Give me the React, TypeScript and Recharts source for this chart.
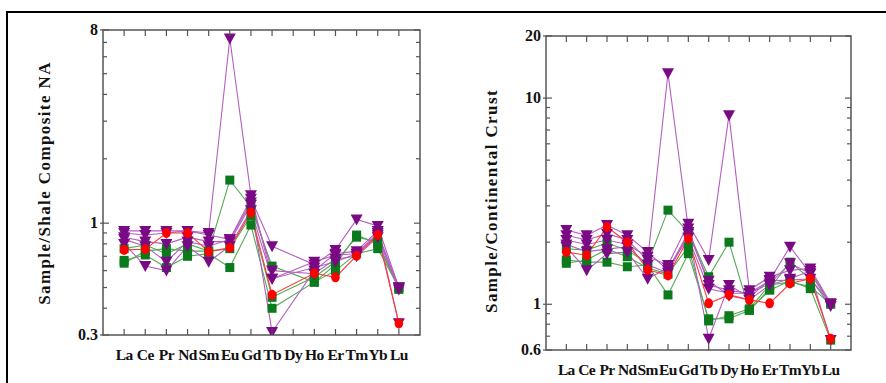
import React from "react";
import { LineChart, Line, XAxis, YAxis, ReferenceArea } from "recharts";

// REE order on the x axis
const ELEMENTS = ["La", "Ce", "Pr", "Nd", "Sm", "Eu", "Gd", "Tb", "Dy", "Ho", "Er", "Tm", "Yb", "Lu"];

// Left panel: normalised to shale composite (NASC); Dy not reported
const shalePurple1 = [0.9, 0.88, 0.9, 0.92, 0.9, 7.3, 1.35, 0.55, null, 0.62, 0.66, 0.72, 0.9, 0.5];
const shalePurple2 = [0.92, 0.92, 0.92, 0.92, 0.88, 0.84, 1.3, 0.78, null, 0.64, 0.75, 1.04, 0.97, 0.5];
const shalePurple3 = [0.86, 0.82, 0.8, 0.86, 0.82, 0.82, 1.22, 0.31, null, 0.6, 0.72, 0.74, 0.92, 0.34];
const shalePurple4 = [0.8, 0.63, 0.6, 0.78, 0.66, 0.78, 1.15, 0.55, null, 0.66, 0.71, 0.72, 0.88, 0.5];
const shalePurple5 = [0.84, 0.78, 0.66, 0.82, 0.78, 0.84, 1.25, 0.6, null, 0.58, 0.68, 0.7, 0.86, 0.49];
const shaleGreen1 = [0.76, 0.79, 0.72, 0.8, 0.74, 1.59, 1.19, 0.63, null, 0.53, 0.64, 0.88, 0.8, 0.5];
const shaleGreen2 = [0.67, 0.71, 0.62, 0.7, 0.72, 0.62, 0.98, 0.4, null, 0.53, 0.6, 0.72, 0.76, 0.5];
const shaleGreen3 = [0.65, 0.74, 0.76, 0.74, 0.74, 0.76, 1.08, 0.45, null, 0.56, 0.66, 0.86, 0.82, 0.49];
const shaleRed = [0.75, 0.755, 0.9, 0.9, 0.736, 0.768, 1.12, 0.463, null, 0.583, 0.558, 0.705, 0.88, 0.34];

// Right panel: normalised to continental crust
const crustPurple1 = [2.16, 2.05, 2.2, 2.05, 1.64, 13.2, 2.33, 1.24, 1.17, 1.13, 1.26, 1.58, 1.41, 1.0];
const crustPurple2 = [2.05, 1.95, 2.05, 1.95, 1.7, 1.55, 2.46, 1.64, 8.26, 1.17, 1.36, 1.46, 1.49, 1.01];
const crustPurple3 = [2.29, 2.16, 2.42, 2.16, 1.79, 1.46, 2.24, 0.68, 1.24, 1.08, 1.31, 1.9, 1.41, 0.67];
const crustPurple4 = [1.9, 1.46, 1.76, 1.79, 1.33, 1.5, 2.1, 1.19, 1.13, 1.13, 1.3, 1.31, 1.33, 0.98];
const crustPurple5 = [1.95, 1.8, 1.85, 1.9, 1.55, 1.42, 2.2, 1.3, 1.1, 1.05, 1.24, 1.33, 1.45, 1.0];
const crustGreen1 = [1.86, 1.83, 1.98, 1.83, 1.58, 2.86, 2.24, 1.36, 2.0, 0.935, 1.19, 1.6, 1.33, 1.01];
const crustGreen2 = [1.64, 1.6, 1.6, 1.52, 1.55, 1.11, 1.76, 0.85, 0.85, 0.935, 1.17, 1.3, 1.19, 0.67];
const crustGreen3 = [1.58, 1.64, 1.85, 1.7, 1.5, 1.4, 1.9, 0.83, 0.88, 0.95, 1.24, 1.28, 1.22, 1.0];
const crustRed = [1.79, 1.73, 2.37, 2.0, 1.47, 1.38, 2.08, 1.01, 1.11, 1.05, 1.01, 1.26, 1.33, 0.68];

const shaleTicks = [0.3, 0.4, 0.5, 0.6, 0.7, 0.8, 0.9, 1, 2, 3, 4, 5, 6, 7, 8];
const shaleLabels = [0.3, 1, 8];
const crustTicks = [0.6, 0.7, 0.8, 0.9, 1, 2, 3, 4, 5, 6, 7, 8, 9, 10, 20];
const crustLabels = [0.6, 1, 10, 20];

const FONT = '"Liberation Serif", "Times New Roman", serif';
const AXIS = "#555";
const COLORS = {
  purple: { fill: "#7a0a84", line: "#b55ec2" },
  green: { fill: "#0b7a1c", line: "#55a855" },
  red: { fill: "#ff0000", line: "#ff3a3a" },
};

type Kind = "purple" | "green" | "red";
type Series = { key: string; values: (number | null)[]; kind: Kind };

const shaleSeries: Series[] = [
  { key: "g1", values: shaleGreen1, kind: "green" },
  { key: "g2", values: shaleGreen2, kind: "green" },
  { key: "g3", values: shaleGreen3, kind: "green" },
  { key: "p1", values: shalePurple1, kind: "purple" },
  { key: "p2", values: shalePurple2, kind: "purple" },
  { key: "p3", values: shalePurple3, kind: "purple" },
  { key: "p4", values: shalePurple4, kind: "purple" },
  { key: "p5", values: shalePurple5, kind: "purple" },
  { key: "r", values: shaleRed, kind: "red" },
];

const crustSeries: Series[] = [
  { key: "g1", values: crustGreen1, kind: "green" },
  { key: "g2", values: crustGreen2, kind: "green" },
  { key: "g3", values: crustGreen3, kind: "green" },
  { key: "p1", values: crustPurple1, kind: "purple" },
  { key: "p2", values: crustPurple2, kind: "purple" },
  { key: "p3", values: crustPurple3, kind: "purple" },
  { key: "p4", values: crustPurple4, kind: "purple" },
  { key: "p5", values: crustPurple5, kind: "purple" },
  { key: "r", values: crustRed, kind: "red" },
];

function buildRows(series: Series[]) {
  return ELEMENTS.map((el, i) => {
    const row: any = { i, el };
    series.forEach((s) => (row[s.key] = s.values[i]));
    return row;
  });
}

const makeDot = (kind: Kind, key: string) => (props: any) => {
  const { cx, cy, index, value } = props;
  const k = `${key}-${index}`;
  if (cx == null || cy == null || value == null) return <g key={k} />;
  const fill = COLORS[kind].fill;
  if (kind === "purple") {
    return <path key={k} d={`M${cx - 6},${cy - 5}L${cx + 6},${cy - 5}L${cx},${cy + 6}Z`} fill={fill} />;
  }
  if (kind === "green") {
    return <rect key={k} x={cx - 4.5} y={cy - 4.5} width={9} height={9} fill={fill} />;
  }
  return <ellipse key={k} cx={cx} cy={cy} rx={4.3} ry={5} fill={fill} />;
};

const Y_W = 40;
const X_H = 30;

type PanelProps = {
  width: number;
  height: number;
  margin: { top: number; right: number; bottom: number; left: number };
  domain: [number, number];
  ticks: number[];
  labels: number[];
  series: Series[];
};

function Panel({ width, height, margin, domain, ticks, labels, series }: PanelProps) {
  const plotW = width - margin.left - margin.right - Y_W;
  const plotH = height - margin.top - margin.bottom - X_H;
  const rows = buildRows(series);

  const XTick = (p: any) => {
    const { x, y, payload } = p;
    return (
      <g>
        <line x1={x} x2={x} y1={y} y2={y - 6} stroke={AXIS} strokeWidth={1.2} />
        <line x1={x} x2={x} y1={y - plotH} y2={y - plotH + 6} stroke={AXIS} strokeWidth={1.2} />
        <text
          x={x}
          y={y + 25}
          textAnchor="middle"
          fontFamily={FONT}
          fontWeight="bold"
          fontSize={15.5}
          letterSpacing={-0.6}
          fill="#111"
        >
          {ELEMENTS[payload.value]}
        </text>
      </g>
    );
  };

  const YTick = (p: any) => {
    const { x, y, payload } = p;
    const major = labels.includes(payload.value);
    const len = major ? 6 : 4;
    return (
      <g>
        <line x1={major ? x - 3 : x} x2={x + len} y1={y} y2={y} stroke={AXIS} strokeWidth={1.2} />
        <line x1={x + plotW - len} x2={x + plotW} y1={y} y2={y} stroke={AXIS} strokeWidth={1.2} />
        {major && (
          <text x={x - 5} y={y + 5} textAnchor="end" fontFamily={FONT} fontWeight="bold" fontSize={16} fill="#111">
            {payload.value}
          </text>
        )}
      </g>
    );
  };

  return (
    <LineChart width={width} height={height} data={rows} margin={margin}>
      <XAxis
        dataKey="i"
        type="number"
        domain={[-1, 14]}
        ticks={ELEMENTS.map((_, i) => i)}
        interval={0}
        allowDataOverflow
        axisLine={false}
        tickLine={false}
        tickSize={0}
        tickMargin={0}
        height={X_H}
        tick={XTick}
      />
      <YAxis
        type="number"
        scale="log"
        domain={domain}
        ticks={ticks}
        interval={0}
        allowDataOverflow
        axisLine={false}
        tickLine={false}
        tickSize={0}
        tickMargin={0}
        width={Y_W}
        tick={YTick}
      />
      <ReferenceArea x1={-1} x2={14} y1={domain[0]} y2={domain[1]} fill="none" stroke={AXIS} strokeWidth={1.5} />
      {series.map((s) => (
        <Line
          key={s.key}
          dataKey={s.key}
          type="linear"
          stroke={COLORS[s.kind].line}
          strokeWidth={1.1}
          connectNulls
          dot={makeDot(s.kind, s.key)}
          activeDot={false}
          isAnimationActive={false}
        />
      ))}
    </LineChart>
  );
}

const labelStyle = (cx: number, cy: number): React.CSSProperties => ({
  position: "absolute",
  left: cx,
  top: cy,
  transform: "translate(-50%, -50%) rotate(-90deg)",
  whiteSpace: "nowrap",
  fontFamily: FONT,
  fontWeight: "bold",
  fontSize: 17,
  letterSpacing: 1.4,
  color: "#111",
});

export default function App() {
  return (
    <div style={{ position: "absolute", left: 0, top: 0, width: 886, height: 383, overflow: "hidden", background: "#fff" }}>
      <div style={{ position: "absolute", left: 6, top: 11, width: 900, height: 400, borderTop: "2px solid #000", borderLeft: "2px solid #000" }} />
      <div style={{ position: "absolute", left: 0, top: 0 }}>
        <Panel
          width={440}
          height={383}
          margin={{ top: 30, right: 20, bottom: 18, left: 63 }}
          domain={[0.3, 8]}
          ticks={shaleTicks}
          labels={shaleLabels}
          series={shaleSeries}
        />
      </div>
      <div style={{ position: "absolute", left: 440, top: 0 }}>
        <Panel
          width={446}
          height={383}
          margin={{ top: 36, right: 35, bottom: 3, left: 66 }}
          domain={[0.6, 20]}
          ticks={crustTicks}
          labels={crustLabels}
          series={crustSeries}
        />
      </div>
      <div style={labelStyle(45, 183)}>Sample/Shale Composite NA</div>
      <div style={labelStyle(492, 201)}>Sample/Continental Crust</div>
    </div>
  );
}
